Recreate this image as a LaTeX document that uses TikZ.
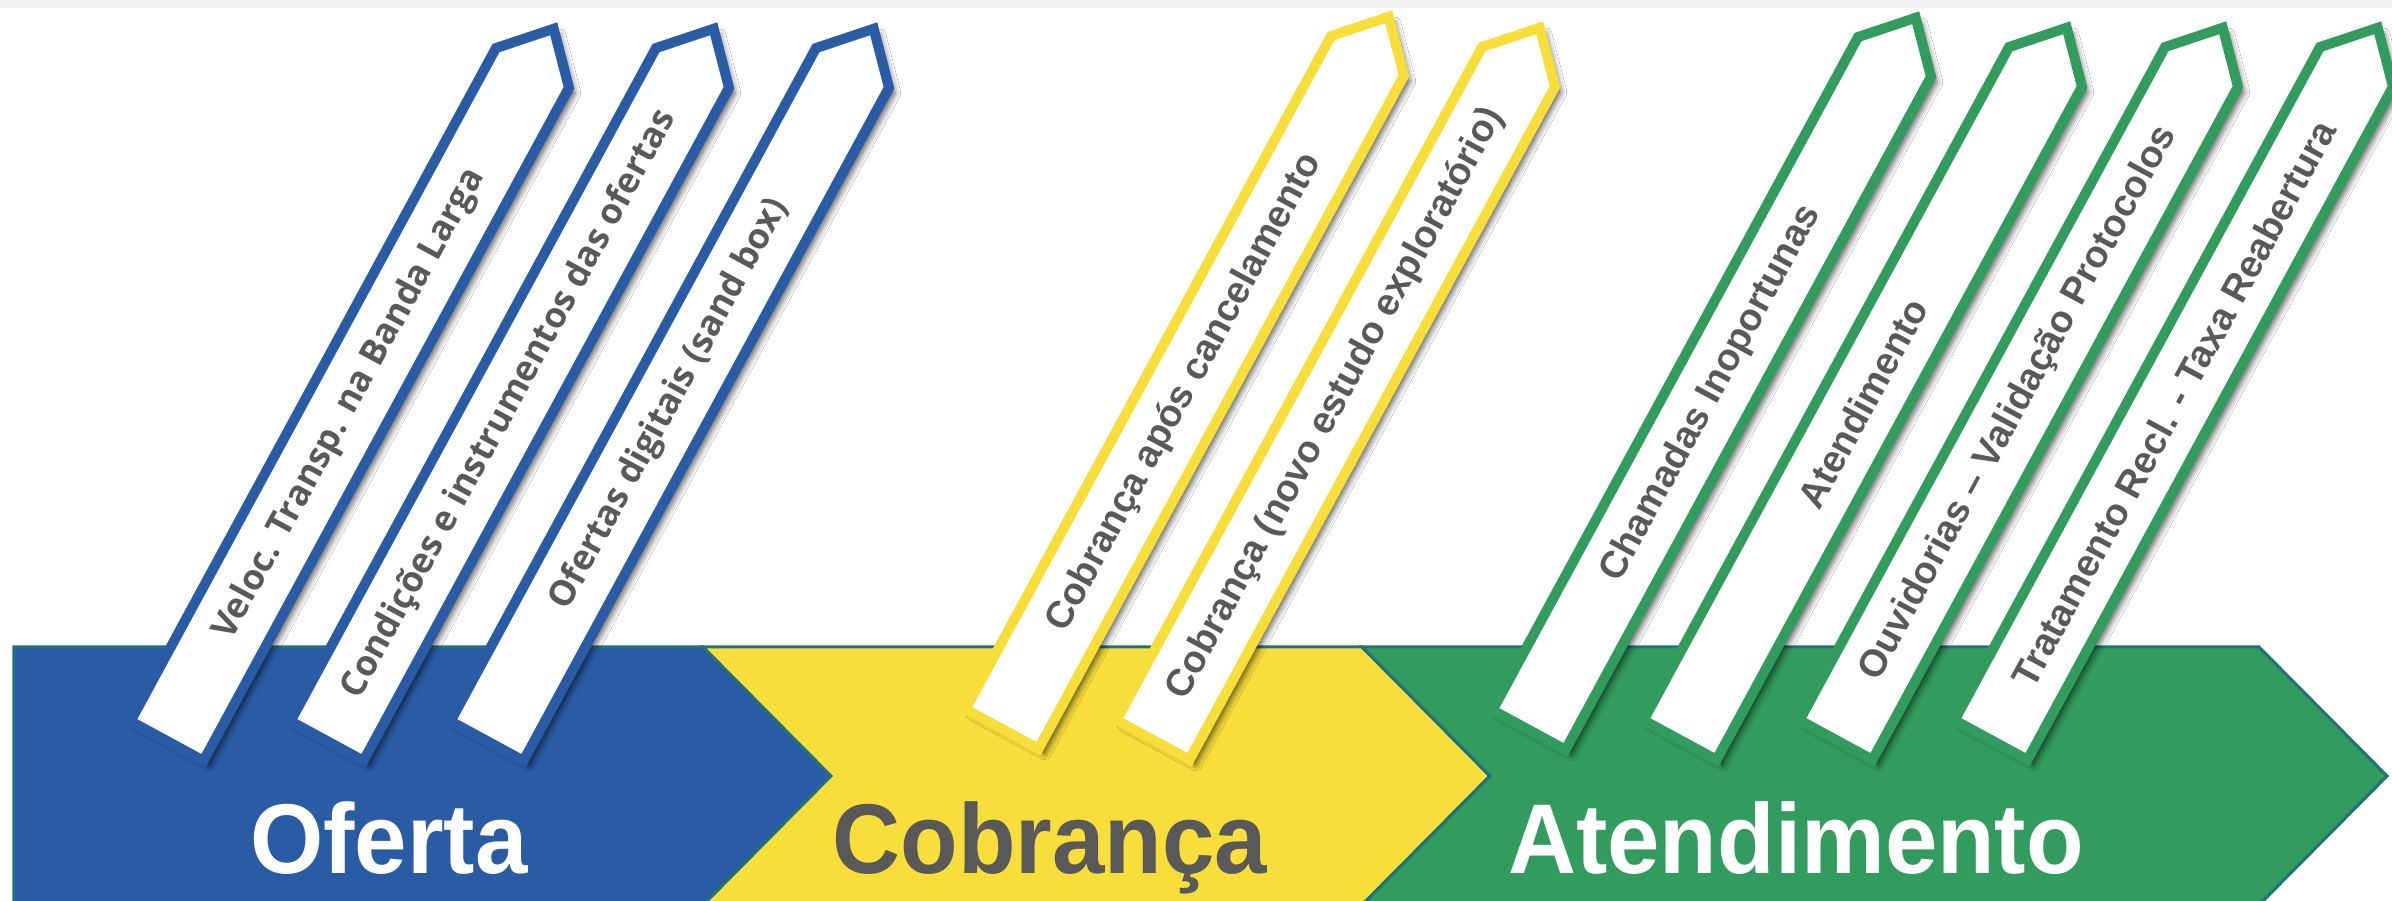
\documentclass[tikz,border=0pt]{standalone}
\usepackage{fontspec}
\setmainfont{Liberation Sans}
\newfontfamily\ofertafont[Scale=0.93]{Open Sans}
\newfontfamily\bandfont[FakeStretch=0.95]{Liberation Sans}
\usetikzlibrary{shapes.symbols,shadows.blur}

\definecolor{ofertablue}{HTML}{2A5CA6}
\definecolor{cobrancayellow}{HTML}{F8DE3B}
\definecolor{atendgreen}{HTML}{319C5E}
\definecolor{tagtext}{HTML}{595959}
\definecolor{bandedge}{HTML}{23717A}
\definecolor{topstrip}{HTML}{F2F2F2}

\begin{document}
\begin{tikzpicture}[x=0.01cm,y=-0.01cm,
    tagbox/.style={signal, signal to=east, signal pointer angle=86,
      draw=#1, fill=white, line width=0.1cm,
      minimum width=8.1cm, minimum height=0.83cm,
      inner sep=0pt, outer sep=0pt, rotate=61.5, anchor=west,
      text=tagtext, font=\fontsize{10.8}{12}\selectfont\bfseries,
      blur shadow={shadow xshift=1.8pt, shadow yshift=-1.6pt,
        shadow blur radius=1.6pt, shadow opacity=60}},
    band/.style={draw=bandedge, line width=0.03cm, fill=#1},
    bandlabel/.style={anchor=base, font=\bandfont\fontsize{28.2}{30}\selectfont\bfseries}]
  \useasboundingbox (0,0) rectangle (2392,901);
  \clip (0,0) rectangle (2392,901);
  \fill[white] (0,0) rectangle (2392,901);
  \fill[topstrip] (0,0) rectangle (2392,8);

  % faixas
  \draw[band=ofertablue] (14,647) -- (703,647) -- (831,776) -- (703,905) -- (14,905) -- cycle;
  \draw[band=cobrancayellow] (703,647) -- (1362,647) -- (1490,776) -- (1362,905) -- (703,905) -- (831,776) -- cycle;
  \draw[band=atendgreen] (1362,647) -- (2259,647) -- (2387,776) -- (2259,905) -- (1362,905) -- (1490,776) -- cycle;

  \node[bandlabel, text=white] (oferta) at (389,873) {Oferta};
  \node[bandlabel, text=tagtext] (cobranca) at (1050,873) {Cobrança};
  \node[bandlabel, text=white] (atend) at (1796,873) {Atendimento};

  % etiquetas
  \node[tagbox=ofertablue] (t1) at (167,741) {\ofertafont Veloc. Transp. na Banda Larga};
  \node[tagbox=ofertablue] (t2) at (327,741) {\ofertafont Condições e instrumentos das ofertas};
  \node[tagbox=ofertablue] (t3) at (487,741) {\ofertafont Ofertas digitais (sand box)};
  \node[tagbox=cobrancayellow] (t4) at (1002,729) {Cobrança após cancelamento};
  \node[tagbox=cobrancayellow] (t5) at (1153,740) {Cobrança (novo estudo exploratório)};
  \node[tagbox=atendgreen] (t6) at (1529,730) {Chamadas Inoportunas};
  \node[tagbox=atendgreen] (t7) at (1680,740) {Atendimento};
  \node[tagbox=atendgreen] (t8) at (1836,740) {Ouvidorias – Validação Protocolos};
  \node[tagbox=atendgreen] (t9) at (1991,740) {Tratamento Recl. - Taxa Reabertura};
\end{tikzpicture}
\end{document}
